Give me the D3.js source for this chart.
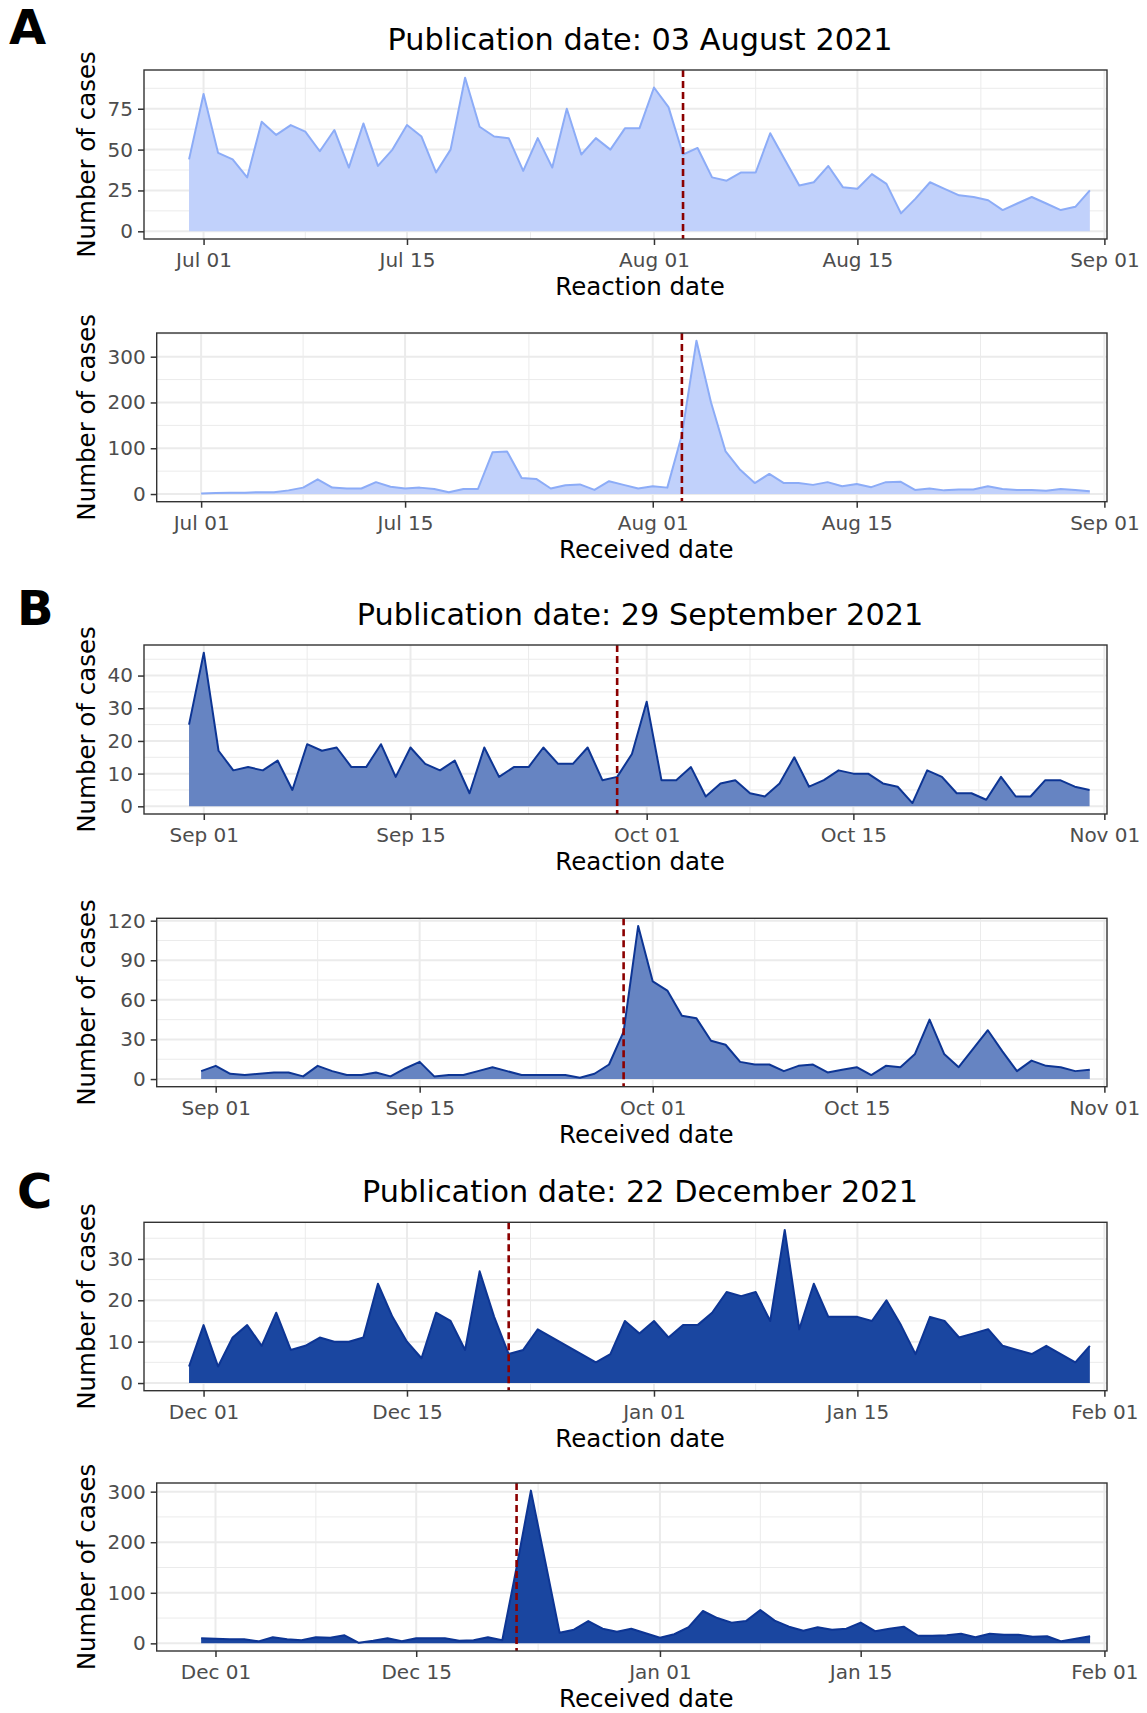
<!DOCTYPE html>
<html>
<head>
<meta charset="utf-8">
<script src="https://cdn.jsdelivr.net/npm/d3@7"></script>
<style>
body { margin: 0; background: #fff; }
</style>
</head>
<body>
<div class="container"></div>
<script>
// daily case counts
var reactionStartA = '2021-06-30';
var reactionA = [44,
    84, 48, 44, 33, 67, 59, 65, 61, 49, 62, 39, 66, 40, 50, 65, 58, 36, 50, 94, 64, 58, 57, 37, 57, 39, 75, 47, 57, 50, 63, 63,
    88, 76, 47, 51, 33, 31, 36, 36, 60, 44, 28, 30, 40, 27, 26, 35, 29, 11, 20, 30, 26, 22, 21, 19, 13, 17, 21, 17, 13, 15, 25];
var receivedStartA = '2021-07-01';
var receivedA = [1, 2, 3, 3, 4, 4, 8, 14, 32, 14, 12, 12, 26, 16, 12, 14, 11, 4, 11, 11, 91, 93, 35, 33, 12, 19, 21, 9, 28, 20, 12,
    17, 14, 129, 335, 200, 93, 53, 24, 44, 24, 24, 20, 26, 17, 22, 15, 26, 27, 9, 12, 8, 10, 10, 17, 11, 9, 9, 7, 11, 9, 6];

var reactionStartB = '2021-08-31';
var reactionB = [25,
    47, 17, 11, 12, 11, 14, 5, 19, 17, 18, 12, 12, 19, 9, 18, 13, 11, 14, 4, 18, 9, 12, 12, 18, 13, 13, 18, 8, 9, 16,
    32, 8, 8, 12, 3, 7, 8, 4, 3, 7, 15, 6, 8, 11, 10, 10, 7, 6, 1, 11, 9, 4, 4, 2, 9, 3, 3, 8, 8, 6, 5];
var receivedStartB = '2021-08-31';
var receivedB = [6,
    10, 4, 3, 4, 5, 5, 2, 10, 6, 3, 3, 5, 2, 8, 13, 2, 3, 3, 6, 9, 6, 3, 3, 3, 3, 1, 4, 11, 36, 116,
    74, 67, 48, 46, 29, 26, 13, 11, 11, 6, 10, 11, 5, 7, 9, 3, 10, 9, 19, 45, 19, 9, 23, 37, 21, 6, 14, 10, 9, 6, 7];

var reactionStartC = '2021-11-30';
var reactionC = [4,
    14, 4, 11, 14, 9, 17, 8, 9, 11, 10, 10, 11, 24, 16, 10, 6, 17, 15, 8, 27, 16, 7, 8, 13, 11, 9, 7, 5, 7, 15, 12,
    15, 11, 14, 14, 17, 22, 21, 22, 15, 37, 13, 24, 16, 16, 16, 15, 20, 14, 7, 16, 15, 11, 12, 13, 9, 8, 7, 9, 7, 5, 9];
var receivedStartC = '2021-11-30';
var receivedC = [10,
    9, 8, 8, 4, 12, 8, 6, 12, 11, 16, 1, 5, 10, 4, 10, 10, 10, 5, 6, 12, 6, 150, 302, 162, 21, 27, 44, 29, 23, 29, 20,
    11, 18, 32, 64, 50, 41, 44, 66, 45, 33, 25, 32, 27, 29, 41, 24, 29, 33, 15, 15, 16, 19, 12, 19, 17, 17, 13, 14, 4, 9, 14];

var letters = ['A', 'B', 'C'];
var titles = ['Publication date: 03 August 2021', 'Publication date: 29 September 2021', 'Publication date: 22 December 2021'];
var pubDates = ['2021-08-03', '2021-09-29', '2021-12-22'];

var xBreaksA = ['2021-07-01', '2021-07-15', '2021-08-01', '2021-08-15', '2021-09-01'];
var xBreaksB = ['2021-09-01', '2021-09-15', '2021-10-01', '2021-10-15', '2021-11-01'];
var xBreaksC = ['2021-12-01', '2021-12-15', '2022-01-01', '2022-01-15', '2022-02-01'];

var yTicksA1 = [0, 25, 50, 75];
var yTicksA2 = [0, 100, 200, 300];
var yTicksB1 = [0, 10, 20, 30, 40];
var yTicksB2 = [0, 30, 60, 90, 120];
var yTicksC1 = [0, 10, 20, 30];
var yTicksC2 = [0, 100, 200, 300];

var xTitles = ['Reaction date', 'Received date'];
var yTitle = 'Number of cases';

// layout
var width = 1147;
var height = 1713;
var right = 1107;
var DAY = 864e5;
var font = '"DejaVu Sans", Verdana, sans-serif';

var colours = [
    {fill: '#c1d1fb', line: '#8cacf7'},
    {fill: '#6684c2', line: '#0d3594'},
    {fill: '#1a46a0', line: '#0d3594'}
];

var blocks = [
    {letter: {x: 9, y: 44}, titleY: 50, panels: [
        {top: 70, bottom: 239, left: 144, start: reactionStartA, values: reactionA, yTicks: yTicksA1},
        {top: 333, bottom: 501.7, left: 156.7, start: receivedStartA, values: receivedA, yTicks: yTicksA2}],
        breaks: xBreaksA},
    {letter: {x: 17, y: 625}, titleY: 625, panels: [
        {top: 645, bottom: 814, left: 144, start: reactionStartB, values: reactionB, yTicks: yTicksB1},
        {top: 918.3, bottom: 1086.7, left: 156.7, start: receivedStartB, values: receivedB, yTicks: yTicksB2}],
        breaks: xBreaksB},
    {letter: {x: 17, y: 1208}, titleY: 1202, panels: [
        {top: 1222.3, bottom: 1390.7, left: 144, start: reactionStartC, values: reactionC, yTicks: yTicksC1},
        {top: 1483, bottom: 1651, left: 156.7, start: receivedStartC, values: receivedC, yTicks: yTicksC2}],
        breaks: xBreaksC}
];

var parse = function(s) { return new Date(s + 'T00:00:00Z'); };
var fmt = d3.utcFormat('%b %d');

var midpoints = function(arr) {
    var out = [];
    for (var i = 0; i < arr.length - 1; i++) out.push((+arr[i] + +arr[i + 1]) / 2);
    return out;
};

var drawPanel = function(svg, p, breaks, pub, col, xTitle) {
    var start = parse(p.start);
    var data = p.values.map(function(v, i) { return {date: new Date(+start + i * DAY), value: v}; });
    var span = (p.values.length - 1) * DAY;
    var breakDates = breaks.map(parse);
    var lastBreak = breakDates[breakDates.length - 1];

    var x = d3.scaleUtc()
        .domain([new Date(+start - 0.05 * span), new Date(+lastBreak + 0.18 * DAY)])
        .range([p.left, right]);
    var maxV = d3.max(p.values);
    var y = d3.scaleLinear()
        .domain([-0.05 * maxV, 1.05 * maxV])
        .range([p.bottom, p.top]);

    var g = svg.append('g');

    // minor grid
    var xMinor = midpoints(breakDates).map(function(t) { return new Date(t); });
    var step = p.yTicks[1] - p.yTicks[0];
    var yExt = [p.yTicks[0] - step].concat(p.yTicks, [p.yTicks[p.yTicks.length - 1] + step]);
    var yMinor = midpoints(yExt).filter(function(v) { return v > y.domain()[0] && v < y.domain()[1]; });

    g.selectAll('.xminor').data(xMinor).enter().append('line')
        .attr('x1', function(d) { return x(d); }).attr('x2', function(d) { return x(d); })
        .attr('y1', p.top).attr('y2', p.bottom)
        .attr('stroke', '#ebebeb').attr('stroke-width', 1);
    g.selectAll('.yminor').data(yMinor).enter().append('line')
        .attr('x1', p.left).attr('x2', right)
        .attr('y1', function(d) { return y(d); }).attr('y2', function(d) { return y(d); })
        .attr('stroke', '#ebebeb').attr('stroke-width', 1);

    // major grid
    g.selectAll('.xmajor').data(breakDates).enter().append('line')
        .attr('x1', function(d) { return x(d); }).attr('x2', function(d) { return x(d); })
        .attr('y1', p.top).attr('y2', p.bottom)
        .attr('stroke', '#ebebeb').attr('stroke-width', 2);
    g.selectAll('.ymajor').data(p.yTicks).enter().append('line')
        .attr('x1', p.left).attr('x2', right)
        .attr('y1', function(d) { return y(d); }).attr('y2', function(d) { return y(d); })
        .attr('stroke', '#ebebeb').attr('stroke-width', 2);

    var area = d3.area()
        .x(function(d) { return x(d.date); })
        .y0(y(0))
        .y1(function(d) { return y(d.value); });
    var line = d3.line()
        .x(function(d) { return x(d.date); })
        .y(function(d) { return y(d.value); });

    g.append('path').attr('d', area(data)).attr('fill', col.fill);
    g.append('path').attr('d', line(data))
        .attr('fill', 'none').attr('stroke', col.line)
        .attr('stroke-width', 2).attr('stroke-linejoin', 'round');

    // publication date
    g.append('line')
        .attr('x1', x(parse(pub))).attr('x2', x(parse(pub)))
        .attr('y1', p.top).attr('y2', p.bottom)
        .attr('stroke', '#8b0000').attr('stroke-width', 2.6)
        .attr('stroke-dasharray', '7,4');

    g.append('rect')
        .attr('x', p.left).attr('y', p.top)
        .attr('width', right - p.left).attr('height', p.bottom - p.top)
        .attr('fill', 'none').attr('stroke', '#333333').attr('stroke-width', 1.4);

    var xAxis = d3.axisBottom(x).tickValues(breakDates).tickFormat(fmt)
        .tickSize(6).tickPadding(8);
    var yAxis = d3.axisLeft(y).tickValues(p.yTicks).tickSize(6).tickPadding(5);

    var gx = g.append('g').attr('transform', 'translate(0,' + p.bottom + ')').call(xAxis);
    var gy = g.append('g').attr('transform', 'translate(' + p.left + ',0)').call(yAxis);
    [gx, gy].forEach(function(a) {
        a.select('.domain').remove();
        a.selectAll('line').attr('stroke', '#333333').attr('stroke-width', 1.5);
        a.selectAll('text').attr('fill', '#4d4d4d')
            .style('font-family', font).style('font-size', '20px');
    });

    g.append('text')
        .attr('x', (p.left + right) / 2 + 14.5).attr('y', p.bottom + 56)
        .attr('text-anchor', 'middle')
        .style('font-family', font).style('font-size', '24.5px')
        .text(xTitle);

    g.append('text')
        .attr('transform', 'translate(' + 95 + ',' + ((p.top + p.bottom) / 2) + ') rotate(-90)')
        .attr('text-anchor', 'middle')
        .style('font-family', font).style('font-size', '24.5px')
        .text(yTitle);
};

var createChart = function() {
    var svg = d3.select('.container').append('svg')
        .attr('width', width)
        .attr('height', height);
    svg.append('rect').attr('width', width).attr('height', height).attr('fill', '#fff');

    blocks.forEach(function(b, i) {
        svg.append('text')
            .attr('x', b.letter.x).attr('y', b.letter.y)
            .style('font-family', font).style('font-size', '48px').style('font-weight', 'bold')
            .text(letters[i]);
        svg.append('text')
            .attr('x', 640).attr('y', b.titleY)
            .attr('text-anchor', 'middle')
            .style('font-family', font).style('font-size', '30.3px')
            .text(titles[i]);
        b.panels.forEach(function(p, j) {
            drawPanel(svg, p, b.breaks, pubDates[i], colours[i], xTitles[j]);
        });
    });
};

window.onload = createChart;
</script>
</body>
</html>
